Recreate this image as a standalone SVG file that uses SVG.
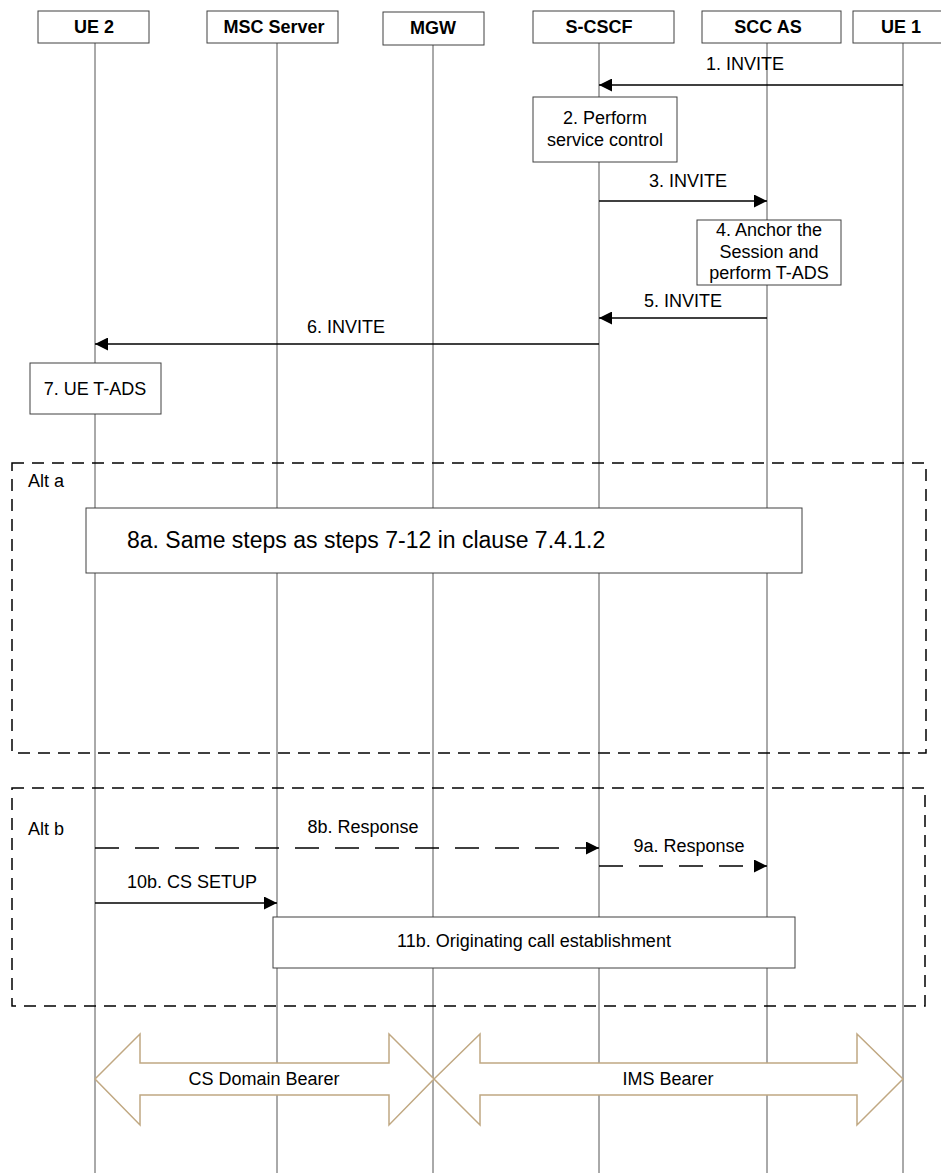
<svg xmlns="http://www.w3.org/2000/svg" width="941" height="1173" viewBox="0 0 941 1173">
<style>
text{font-family:"Liberation Sans",Arial,sans-serif;fill:#000}
.hdr{font-size:18px;font-weight:bold;text-anchor:middle}
.lbl{font-size:18px}
.mid{text-anchor:middle}
.box{fill:#fff;stroke:#404040;stroke-width:1}
.life{stroke:#555;stroke-width:1}
.msg{stroke:#000;stroke-width:1.4;fill:none;marker-end:url(#ah)}
.dash{stroke-dasharray:24 16}
.alt{fill:none;stroke:#000;stroke-width:1.5;stroke-dasharray:12 8}
.bearer{fill:#fff;stroke:#c0a882;stroke-width:1.5}
</style>
<defs>
<marker id="ah" markerUnits="userSpaceOnUse" markerWidth="13" markerHeight="13" refX="13" refY="6.5" orient="auto">
<path d="M0,0 L13,6.5 L0,13 z" fill="#000"/>
</marker>
</defs>
<rect width="941" height="1173" fill="#fff"/>
<g id="lifelines">
<line class="life" x1="95" y1="43" x2="95" y2="1173"/>
<line class="life" x1="277" y1="43" x2="277" y2="1173"/>
<line class="life" x1="433" y1="45" x2="433" y2="1173"/>
<line class="life" x1="599" y1="43" x2="599" y2="1173"/>
<line class="life" x1="767" y1="43" x2="767" y2="1173"/>
<line class="life" x1="903" y1="43" x2="903" y2="1173"/>
</g>
<g id="ue2"><rect class="box" x="38" y="11" width="111" height="32"/><text class="hdr" x="94" y="33">UE 2</text></g>
<g id="msc"><rect class="box" x="207" y="11" width="131" height="32"/><text class="hdr" x="274" y="33">MSC Server</text></g>
<g id="mgw"><rect class="box" x="383" y="12" width="101" height="33"/><text class="hdr" x="433" y="34">MGW</text></g>
<g id="scscf"><rect class="box" x="533" y="11" width="141" height="32"/><text class="hdr" x="599" y="33">S-CSCF</text></g>
<g id="sccas"><rect class="box" x="702" y="11" width="139" height="32"/><text class="hdr" x="768" y="33">SCC AS</text></g>
<g id="ue1"><rect class="box" x="853" y="11" width="97" height="32"/><text class="hdr" x="901" y="33">UE 1</text></g>
<g id="alt-a"><rect class="alt" x="12" y="463" width="914" height="290"/><text class="lbl" x="28" y="487">Alt a</text></g>
<g id="alt-b"><rect class="alt" x="12" y="788" width="913" height="218"/><text class="lbl" x="28" y="835">Alt b</text></g>
<g id="step2"><rect class="box" x="533" y="97" width="144" height="65"/><text class="lbl mid" x="605" y="124">2. Perform</text><text class="lbl mid" x="605" y="146">service control</text></g>
<g id="step4"><rect class="box" x="697" y="220" width="144" height="65"/><text class="lbl mid" x="769" y="236">4. Anchor the</text><text class="lbl mid" x="769" y="258">Session and</text><text class="lbl mid" x="769" y="279">perform T-ADS</text></g>
<g id="step7"><rect class="box" x="30" y="363" width="131" height="51"/><text class="lbl mid" x="95" y="395">7. UE T-ADS</text></g>
<g id="step8a"><rect class="box" x="86" y="508" width="716" height="65"/><text x="127" y="548" style="font-size:23px">8a. Same steps as steps 7-12 in clause 7.4.1.2</text></g>
<g id="step11b"><rect class="box" x="273" y="917" width="522" height="51"/><text class="lbl mid" x="534" y="947">11b. Originating call establishment</text></g>
<g id="connectors">
<line class="msg" x1="903" y1="85" x2="599" y2="85"/>
<text class="lbl mid" x="745" y="70">1. INVITE</text>
<line class="msg" x1="599" y1="201" x2="767" y2="201"/>
<text class="lbl mid" x="688" y="187">3. INVITE</text>
<line class="msg" x1="767" y1="318" x2="599" y2="318"/>
<text class="lbl mid" x="683" y="307">5. INVITE</text>
<line class="msg" x1="599" y1="344" x2="95" y2="344"/>
<text class="lbl mid" x="346" y="333">6. INVITE</text>
<line class="msg dash" x1="95" y1="848" x2="599" y2="848"/>
<text class="lbl mid" x="363" y="833">8b. Response</text>
<line class="msg dash" x1="599" y1="866" x2="767" y2="866"/>
<text class="lbl mid" x="689" y="852">9a. Response</text>
<line class="msg" x1="95" y1="903" x2="277" y2="903"/>
<text class="lbl mid" x="192" y="888">10b. CS SETUP</text>
</g>
<g id="cs-bearer"><polygon class="bearer" points="95,1079 140,1034 140,1063 389,1063 389,1034 434,1079 389,1125 389,1095 140,1095 140,1125"/><text class="lbl mid" x="264" y="1085">CS Domain Bearer</text></g>
<g id="ims-bearer"><polygon class="bearer" points="434,1079 480,1034 480,1063 857,1063 857,1034 903,1079 857,1125 857,1095 480,1095 480,1125"/><text class="lbl mid" x="668" y="1085">IMS Bearer</text></g>
</svg>
